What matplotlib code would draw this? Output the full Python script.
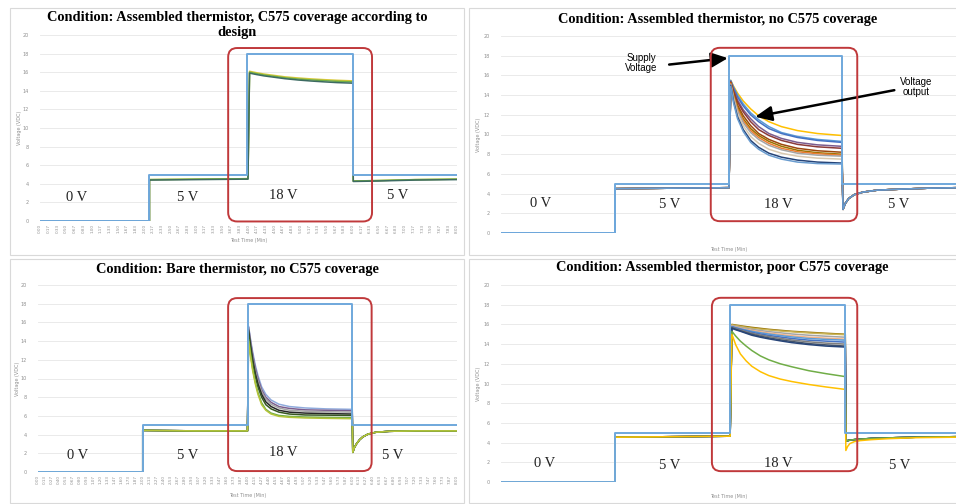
import numpy as np
import matplotlib.pyplot as plt
from matplotlib.patches import FancyBboxPatch, Rectangle

W, H = 956, 504

# supply voltage (VDC) against test time (min)
supply_v = [0, 0, 5, 5, 18, 18, 5, 5]
supply_t_tl = [0, 2.1, 2.1, 3.97, 3.97, 6.0, 6.0, 8.0]
supply_t_tr = [0, 2.0, 2.0, 4.0, 4.0, 5.98, 5.98, 8.0]
supply_t_bl = [0, 2.0, 2.0, 4.0, 4.0, 6.0, 6.0, 8.0]
supply_t_br = [0, 2.0, 2.0, 4.02, 4.02, 6.04, 6.04, 8.0]

# --- assembled thermistor, coverage according to design
tl_t = [0, 2.1, 2.1, 3.0, 3.99,
        4.02, 4.15, 4.3, 4.5, 4.7, 4.95, 5.2, 5.45, 5.7, 6.0,
        6.01, 6.5, 7.2, 8.0]
tl_out = {
    "#d8c93a": [0, 0, 4.45, 4.5, 4.55,
                16.1, 15.95, 15.8, 15.65, 15.5, 15.38, 15.28, 15.2, 15.13, 15.07,
                4.3, 4.35, 4.45, 4.5],
    "#70ad47": [0, 0, 4.45, 4.5, 4.55,
                16.0, 15.85, 15.7, 15.55, 15.4, 15.27, 15.17, 15.09, 15.02, 14.96,
                4.3, 4.35, 4.45, 4.5],
    "#3d6b62": [0, 0, 4.4, 4.45, 4.5,
                15.9, 15.75, 15.6, 15.45, 15.3, 15.16, 15.05, 14.96, 14.88, 14.82,
                4.25, 4.3, 4.4, 4.45],
}

# --- assembled thermistor, no coverage
tr_t = [0, 2.0, 2.0, 3.0, 4.0,
        4.03, 4.08, 4.15, 4.25, 4.38, 4.52, 4.7, 4.92, 5.2, 5.55, 5.98,
        6.0, 6.04, 6.1, 6.2, 6.35, 6.6, 7.0, 7.5, 8.0]
tr_pre = [0, 0, 4.5, 4.55, 4.6]
tr_decay = {
    "#ffc000": [15.5, 14.9, 14.2, 13.4, 12.6, 11.9, 11.3, 10.8, 10.4, 10.1, 9.9],
    "#5b9bd5": [15.5, 14.8, 14.0, 13.1, 12.2, 11.5, 10.8, 10.2, 9.8, 9.5, 9.3],
    "#4472c4": [15.4, 14.7, 13.8, 12.9, 12.0, 11.3, 10.6, 10.1, 9.7, 9.4, 9.2],
    "#7b5d8f": [15.4, 14.5, 13.5, 12.5, 11.6, 10.8, 10.1, 9.6, 9.2, 8.95, 8.8],
    "#8b3a3a": [15.3, 14.4, 13.3, 12.3, 11.3, 10.5, 9.9, 9.4, 9.0, 8.75, 8.6],
    "#9e480e": [15.3, 14.2, 13.0, 11.9, 10.9, 10.1, 9.5, 9.0, 8.6, 8.35, 8.2],
    "#997300": [15.2, 14.0, 12.8, 11.6, 10.6, 9.9, 9.3, 8.8, 8.4, 8.15, 8.0],
    "#ed7d31": [15.2, 13.9, 12.6, 11.4, 10.4, 9.7, 9.1, 8.6, 8.25, 8.05, 7.9],
    "#a5a5a5": [15.1, 13.8, 12.4, 11.2, 10.2, 9.5, 8.9, 8.45, 8.1, 7.9, 7.8],
    "#d9c9b0": [15.0, 13.6, 12.1, 10.9, 9.8, 9.1, 8.5, 8.1, 7.8, 7.6, 7.5],
    "#264478": [15.0, 13.4, 11.8, 10.5, 9.4, 8.7, 8.1, 7.7, 7.4, 7.2, 7.1],
    "#6a9ccf": [14.9, 13.2, 11.6, 10.3, 9.2, 8.5, 7.9, 7.5, 7.2, 7.05, 7.0],
}
tr_post = [2.4, 3.0, 3.5, 3.9, 4.15, 4.35, 4.45, 4.55, 4.6]

# --- bare thermistor, no coverage
bl_t = [0, 2.0, 2.0, 3.0, 4.0,
        4.02, 4.06, 4.1, 4.15, 4.2, 4.27, 4.35, 4.45, 4.6, 4.8, 5.1, 5.5, 6.0,
        6.01, 6.04, 6.08, 6.14, 6.2, 6.3, 6.45, 6.7, 7.2, 8.0]
bl_pre = [0, 0, 4.45, 4.4, 4.4]
bl_decay = {
    "#8faadc": [15.6, 14.1, 12.8, 11.4, 10.3, 9.1, 8.3, 7.7, 7.25, 7.0, 6.85, 6.75, 6.7],
    "#7b5d8f": [15.5, 13.9, 12.5, 11.1, 10.0, 8.8, 8.0, 7.45, 7.0, 6.8, 6.65, 6.6, 6.55],
    "#a5a5a5": [15.4, 13.7, 12.2, 10.8, 9.7, 8.6, 7.8, 7.25, 6.85, 6.6, 6.5, 6.45, 6.4],
    "#262626": [15.2, 13.5, 12.0, 10.5, 9.4, 8.3, 7.5, 7.0, 6.6, 6.4, 6.3, 6.25, 6.2],
    "#375623": [15.0, 13.2, 11.7, 10.2, 9.1, 8.0, 7.2, 6.75, 6.4, 6.2, 6.1, 6.08, 6.05],
    "#70ad47": [14.2, 12.5, 11.0, 9.6, 8.5, 7.4, 6.7, 6.3, 6.05, 5.95, 5.88, 5.84, 5.8],
    "#b5c43a": [14.0, 12.3, 10.8, 9.4, 8.3, 7.2, 6.6, 6.2, 5.95, 5.85, 5.78, 5.74, 5.7],
}
bl_post = [2.1, 2.6, 3.0, 3.45, 3.75, 4.05, 4.25, 4.35, 4.4, 4.4]

# --- assembled thermistor, poor coverage
br_t = [0, 2.0, 2.0, 3.0, 4.02,
        4.05, 4.12, 4.2, 4.3, 4.4, 4.55, 4.7, 4.9, 5.1, 5.4, 5.7, 6.04,
        6.05, 6.08, 6.12, 6.2, 6.3, 6.5, 6.8, 7.3, 8.0]
br_pre = [0, 0, 4.55, 4.6, 4.65]
br_decay = {
    "#997300": [16.0, 15.93, 15.86, 15.78, 15.7, 15.6, 15.5, 15.4, 15.3, 15.2, 15.1, 15.0],
    "#c9b458": [15.95, 15.88, 15.8, 15.7, 15.62, 15.52, 15.44, 15.33, 15.25, 15.13, 15.04, 14.95],
    "#a5a5a5": [15.9, 15.8, 15.7, 15.6, 15.5, 15.38, 15.27, 15.15, 15.03, 14.9, 14.8, 14.7],
    "#f4b183": [15.85, 15.73, 15.62, 15.5, 15.39, 15.25, 15.12, 14.98, 14.85, 14.7, 14.6, 14.5],
    "#5b9bd5": [15.8, 15.68, 15.56, 15.43, 15.3, 15.15, 15.02, 14.87, 14.73, 14.57, 14.48, 14.4],
    "#4472c4": [15.75, 15.62, 15.5, 15.35, 15.2, 15.03, 14.88, 14.72, 14.57, 14.4, 14.3, 14.2],
    "#7f7f7f": [15.7, 15.56, 15.42, 15.26, 15.1, 14.92, 14.77, 14.58, 14.42, 14.23, 14.1, 14.0],
    "#44546a": [15.65, 15.5, 15.35, 15.17, 15.0, 14.8, 14.63, 14.43, 14.27, 14.05, 13.92, 13.8],
    "#264478": [15.6, 15.45, 15.3, 15.1, 14.9, 14.7, 14.53, 14.33, 14.15, 13.95, 13.8, 13.7],
    "#70ad47": [15.3, 14.8, 14.3, 13.8, 13.35, 12.8, 12.4, 12.0, 11.7, 11.3, 11.0, 10.7],
    "#ffc000": [15.0, 13.9, 13.0, 12.3, 11.75, 11.2, 10.8, 10.45, 10.2, 9.9, 9.65, 9.4],
}
br_post = [4.15, 4.2, 4.25, 4.3, 4.35, 4.42, 4.48, 4.55, 4.6]
br_post_yellow = [3.2, 3.6, 3.9, 4.1, 4.2, 4.3, 4.4, 4.5, 4.55]

step_labels = ["0 V", "5 V", "18 V", "5 V"]

supply_color = "#6fa8dc"
box_color = "#c0393b"
serif = "Liberation Serif"
title_size = 10.4


def px_rect(x0, y0, x1, y1):
    return [x0 / W, 1 - y1 / H, (x1 - x0) / W, (y1 - y0) / H]


fig = plt.figure(figsize=(W / 100, H / 100), dpi=100)
fig.patch.set_facecolor("white")

for x0, y0, x1, y1 in [(10, 8, 464, 255), (469, 8, 962, 255),
                       (10, 259, 464, 503), (469, 259, 962, 503)]:
    fig.patches.append(Rectangle((x0 / W, 1 - y1 / H), (x1 - x0) / W, (y1 - y0) / H,
                                 transform=fig.transFigure, facecolor="white",
                                 edgecolor="#d9d9d9", lw=0.8, zorder=-5))


def setup(ax, ticks=None, fmt="{:.2f}", xlab_y=-0.08):
    ax.set_xlim(0, 8)
    ax.set_ylim(0, 20)
    ax.set_facecolor("none")
    for s in ax.spines.values():
        s.set_visible(False)
    ax.set_yticks(range(0, 21, 2))
    ax.yaxis.grid(True, color="#e6e6e6", lw=0.6)
    ax.set_axisbelow(True)
    ax.tick_params(axis="y", length=0, labelsize=3.5, labelcolor="#909090", pad=8)
    if ticks is not None:
        ax.set_xticks(ticks)
        ax.set_xticklabels([fmt.format(v) for v in ticks], rotation=90)
        ax.tick_params(axis="x", length=0, labelsize=3, labelcolor="#909090", pad=2)
    else:
        ax.set_xticks([])
    ax.set_ylabel("Voltage (VDC)", fontsize=3.5, color="#909090")
    ax.yaxis.set_label_coords(-0.043, 0.5)
    ax.set_xlabel("Test Time (Min)", fontsize=3.5, color="#909090")
    ax.xaxis.set_label_coords(0.5, xlab_y)


def red_box(ax, x0, x1, y0, y1):
    bb = ax.get_position()
    xpx = bb.width * W / 8.0
    ypx = bb.height * H / 20.0
    r = 9.0 / xpx
    ax.add_patch(FancyBboxPatch((x0, y0), x1 - x0, y1 - y0,
                                boxstyle=f"round,pad=0,rounding_size={r}",
                                mutation_aspect=xpx / ypx, fill=False,
                                edgecolor=box_color, lw=1.4, clip_on=False, zorder=5))


def labels(ax, xs, ys):
    for s, x, y in zip(step_labels, xs, ys):
        ax.text(x, y, s, ha="center", va="center", family=serif, fontsize=10.5,
                color="#222222", zorder=6)


arrow_style = dict(arrowstyle="-|>,head_length=1.0,head_width=0.45",
                   color="black", lw=1.8, shrinkA=0, shrinkB=0)

# top-left
ax = fig.add_axes(px_rect(40, 35, 457, 221))
setup(ax, ticks=np.linspace(0, 8, 49), xlab_y=-0.09)
for c, v in tl_out.items():
    ax.plot(tl_t, v, color=c, lw=1.1)
ax.plot(supply_t_tl, supply_v, color=supply_color, lw=1.4)
red_box(ax, 3.61, 6.37, -0.05, 18.6)
labels(ax, [0.71, 2.84, 4.66, 6.87], [2.5, 2.5, 2.7, 2.7])
fig.text(237 / W, 1 - 25 / H,
         "Condition: Assembled thermistor, C575 coverage according to\ndesign",
         ha="center", va="center", family=serif, fontweight="bold", fontsize=title_size,
         linespacing=1.15)

# top-right
ax = fig.add_axes(px_rect(501, 36, 957, 233))
setup(ax, xlab_y=-0.071)
for c, v in tr_decay.items():
    ax.plot(tr_t, tr_pre + v + tr_post, color=c, lw=1.1)
ax.plot(supply_t_tr, supply_v, color=supply_color, lw=1.4)
red_box(ax, 3.68, 6.25, 1.2, 18.8)
labels(ax, [0.70, 2.96, 4.86, 6.98], [3.0, 2.9, 2.9, 2.9])
ax.annotate("", xy=(3.98, 17.75), xytext=(2.95, 17.1), arrowprops=arrow_style)
ax.text(2.46, 17.3, "Supply\nVoltage", ha="center", va="center",
        family="Liberation Sans", fontsize=7, linespacing=1.0)
ax.annotate("", xy=(4.46, 11.8), xytext=(6.9, 14.5), arrowprops=arrow_style)
ax.text(7.28, 14.8, "Voltage\noutput", ha="center", va="center",
        family="Liberation Sans", fontsize=7, linespacing=1.0)
fig.text(718 / W, 1 - 20 / H, "Condition: Assembled thermistor, no C575 coverage",
         ha="center", va="center", family=serif, fontweight="bold", fontsize=title_size)

# bottom-left
ax = fig.add_axes(px_rect(38, 285, 457, 472))
setup(ax, ticks=np.linspace(0, 8, 61), xlab_y=-0.112)
for c, v in bl_decay.items():
    ax.plot(bl_t, bl_pre + v + bl_post, color=c, lw=1.1)
ax.plot(supply_t_bl, supply_v, color=supply_color, lw=1.4)
red_box(ax, 3.63, 6.37, 0.1, 18.6)
labels(ax, [0.76, 2.86, 4.68, 6.77], [1.8, 1.8, 2.1, 1.8])
fig.text(237 / W, 1 - 269 / H, "Condition: Bare thermistor, no C575 coverage",
         ha="center", va="center", family=serif, fontweight="bold", fontsize=title_size)

# bottom-right
ax = fig.add_axes(px_rect(501, 285, 957, 482))
setup(ax, xlab_y=-0.061)
for c, v in br_decay.items():
    post = br_post_yellow if c == "#ffc000" else br_post
    ax.plot(br_t, br_pre + v + post, color=c, lw=1.1)
ax.plot(supply_t_br, supply_v, color=supply_color, lw=1.4)
red_box(ax, 3.70, 6.25, 1.1, 18.7)
labels(ax, [0.77, 2.96, 4.86, 7.0], [1.9, 1.7, 1.9, 1.7])
fig.text(722 / W, 1 - 268 / H, "Condition: Assembled thermistor, poor C575 coverage",
         ha="center", va="center", family=serif, fontweight="bold", fontsize=title_size)

fig.savefig("out.png", dpi=100)
